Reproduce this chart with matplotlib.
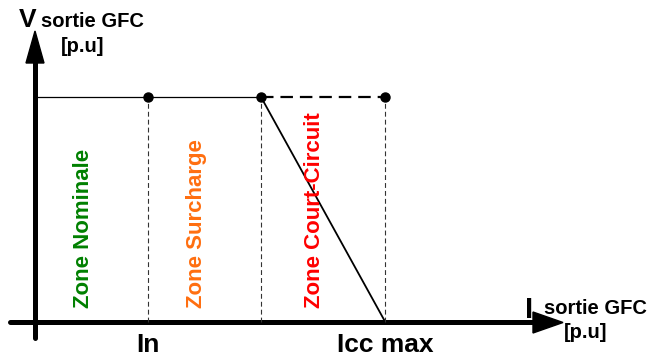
import matplotlib
matplotlib.use("Agg")
import matplotlib.pyplot as plt
from matplotlib.patches import Polygon

plt.rcParams['font.family'] = ['Liberation Sans', 'DejaVu Sans']
plt.rcParams['lines.scale_dashes'] = False

# Données (p.u)
i_points = [1.0, 2.0, 3.1]          # In, limite surcharge, Icc max
v_nom = 1.0
zones = ['Zone Nominale', 'Zone Surcharge', 'Zone Court-Circuit']
zone_bornes = [0.0, 1.0, 2.0, 3.1]
zone_couleurs = ['#008000', '#FF6E0F', '#FF0000']
tick_pos = [1.0, 3.1]
tick_labels = ['In', 'Icc max']

W, H = 650, 356
fig = plt.figure(figsize=(W / 100, H / 100), dpi=100)

# Axe des données : origine à (35, 322) px, 1 p.u = 113 px en x et 225 px en y
ox, oy, ux, uy = 35, 322, 113, 225
ax = fig.add_axes([0, 0, 1, 1])
ax.set_xlim(-ox / ux, (W - ox) / ux)
ax.set_ylim(-(H - oy) / uy, oy / uy)
ax.axis('off')

# Calque en pixels pour les flèches des axes et les titres
lay = fig.add_axes([0, 0, 1, 1], zorder=0)
lay.set_xlim(0, W)
lay.set_ylim(H, 0)
lay.axis('off')
lay.patch.set_alpha(0)
ax.set_zorder(1)
ax.patch.set_alpha(0)

# flèches des axes
lay.plot([35, 35], [338, 60], color='black', lw=3.6, solid_capstyle='round')
lay.add_patch(Polygon([[26, 63], [44, 63], [35, 31]], closed=True, color='black'))
lay.plot([10, 535], [322, 322], color='black', lw=3.6, solid_capstyle='round')
lay.add_patch(Polygon([[533, 312], [533, 333], [563, 322.5]], closed=True, color='black'))

lay.text(19, 27, 'V', fontsize=19, fontweight='bold', ha='left', va='baseline')
lay.text(41, 27, 'sortie GFC', fontsize=14.5, fontweight='bold', ha='left', va='baseline')
lay.text(61, 52, '[p.u]', fontsize=14.5, fontweight='bold', ha='left', va='baseline')
lay.text(525, 318, 'I', fontsize=21, fontweight='bold', ha='left', va='baseline')
lay.text(544, 314, 'sortie GFC', fontsize=14.5, fontweight='bold', ha='left', va='baseline')
lay.text(564, 338, '[p.u]', fontsize=14.5, fontweight='bold', ha='left', va='baseline')

# caractéristique
i_n, i_sur, i_cc = i_points
ax.plot([0, i_sur], [v_nom, v_nom], color='black', lw=0.9)
ax.plot([i_sur, i_cc], [v_nom, v_nom], color='black', lw=1.6, dashes=(9, 5))
ax.plot([i_sur, i_cc], [v_nom, 0], color='black', lw=1.3)
for xi in i_points:
    ax.plot([xi, xi], [0, v_nom], color='#333333', lw=0.8, dashes=(3.5, 2.2))
ax.plot(i_points, [v_nom] * len(i_points), 'o', color='black', ms=6.5, zorder=5)

# zones
for k, nom in enumerate(zones):
    xz = zone_bornes[k] + 0.43 * (zone_bornes[k + 1] - zone_bornes[k])
    ax.text(xz, 0.062, nom, rotation=90, ha='center', va='bottom',
            fontsize=16, fontweight='bold', color=zone_couleurs[k])

for xt, lab in zip(tick_pos, tick_labels):
    ax.text(xt, -0.133, lab, ha='center', va='baseline', fontsize=19, fontweight='bold')

fig.savefig('out.png', dpi=100)
